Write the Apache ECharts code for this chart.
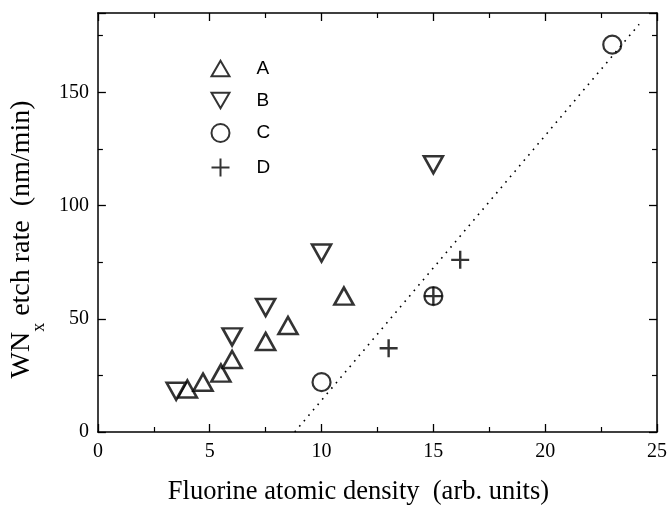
<!DOCTYPE html>
<html><head><meta charset="utf-8">
<script src="https://cdn.jsdelivr.net/npm/echarts@6/dist/echarts.min.js"></script>
<style>html,body{margin:0;padding:0;background:#fff}#c{width:670px;height:511px}</style>
</head><body><div id="c"></div>
<script>
const seriesA = [[4.0,19],[4.7,22],[5.5,26],[6.0,32],[7.5,40],[8.5,47],[11.0,60]];
const seriesB = [[3.5,18],[6.0,42],[7.5,55],[10.0,79],[15.0,118]];
const seriesC = [[10.0,22],[15.0,60],[23.0,171]];
const seriesD = [[13.0,37],[15.0,60],[16.2,76]];
const fitLine = [[8.8,0],[24.2,180]];
const xTicks = [0,5,10,15,20,25];
const yTicks = [0,50,100,150];

const chart = echarts.init(document.getElementById('c'));
const serif = '"Liberation Serif","DejaVu Serif",serif';
const sans = '"Liberation Sans","DejaVu Sans",sans-serif';
const mk = {color:'#fff', borderColor:'#000', borderWidth:2.6};
const upTri = 'path://M5,0L10,8.66L0,8.66Z';
const downTri = 'path://M0,0L10,0L5,8.66Z';
const plus = 'path://M5,0L5,10M0,5L10,5';
function axisCommon(show){
  return {
    axisLine:{show:true, onZero:false, lineStyle:{color:'#000', width:1.5}},
    axisTick:{show:true, inside:true, length:8, lineStyle:{color:'#000', width:1.3}},
    minorTick:{show:true, splitNumber:2, length:5, lineStyle:{color:'#000', width:1.2}},
    splitLine:{show:false},
    axisLabel:{show:show, color:'#000', fontFamily:serif, fontSize:20}
  };
}
chart.setOption({
  animation:false,
  backgroundColor:'#fff',
  grid:{left:95, right:13, top:13, bottom:76},
  legend:{
    orient:'vertical', left:204, top:54, itemWidth:18, itemHeight:18, itemGap:13,
    textStyle:{fontFamily:sans, fontSize:19, color:'#000', padding:[0,0,0,22]},
    data:[{name:'A', icon:upTri},{name:'B', icon:downTri},{name:'C', icon:'circle'},{name:'D', icon:plus}]
  },
  xAxis:[
    Object.assign(axisCommon(true), {type:'value', min:0, max:25, interval:5, position:'bottom',
      name:'Fluorine atomic density  (arb. units)', nameLocation:'middle', nameGap:47,
      nameTextStyle:{fontFamily:serif, fontSize:26.5, color:'#000', padding:[0,38,0,0]},
      axisLabel:{show:true, color:'#000', fontFamily:serif, fontSize:20, margin:10,
        formatter:v=>xTicks.includes(v)?String(v):''}}),
    Object.assign(axisCommon(false), {type:'value', min:0, max:25, interval:5, position:'top'})
  ],
  yAxis:[
    Object.assign(axisCommon(true), {type:'value', min:0, max:185, interval:50, position:'left',
      name:'{a|WN}{s|x}{a| etch rate  (nm/min)}', nameLocation:'middle', nameGap:45,
      nameTextStyle:{fontFamily:serif, fontSize:28, color:'#000', padding:[0,34,0,0],
        rich:{a:{fontFamily:serif, fontSize:28, color:'#000'}, s:{fontFamily:serif, fontSize:18, color:'#000', verticalAlign:'bottom', padding:[0,0,-12,0]}}},
      axisLabel:{show:true, color:'#000', fontFamily:serif, fontSize:20, margin:9,
        formatter:v=>yTicks.includes(v)?String(v):''}}),
    Object.assign(axisCommon(false), {type:'value', min:0, max:185, interval:50, position:'right'})
  ],
  series:[
    {name:'fit', type:'line', data:fitLine, symbol:'none', silent:true,
      lineStyle:{color:'#000', width:1.6, type:[1.6,5.5]}},
    {name:'A', type:'scatter', data:seriesA, symbol:upTri, symbolSize:[19,17], itemStyle:mk},
    {name:'B', type:'scatter', data:seriesB, symbol:downTri, symbolSize:[19,17], itemStyle:mk},
    {name:'C', type:'scatter', data:seriesC, symbol:'circle', symbolSize:18, itemStyle:Object.assign({}, mk, {color:'transparent', borderWidth:2.2})},
    {name:'D', type:'scatter', data:seriesD, symbol:plus, symbolSize:18, itemStyle:{color:'none', borderColor:'#000', borderWidth:2.4}}
  ]
});
</script></body></html>
